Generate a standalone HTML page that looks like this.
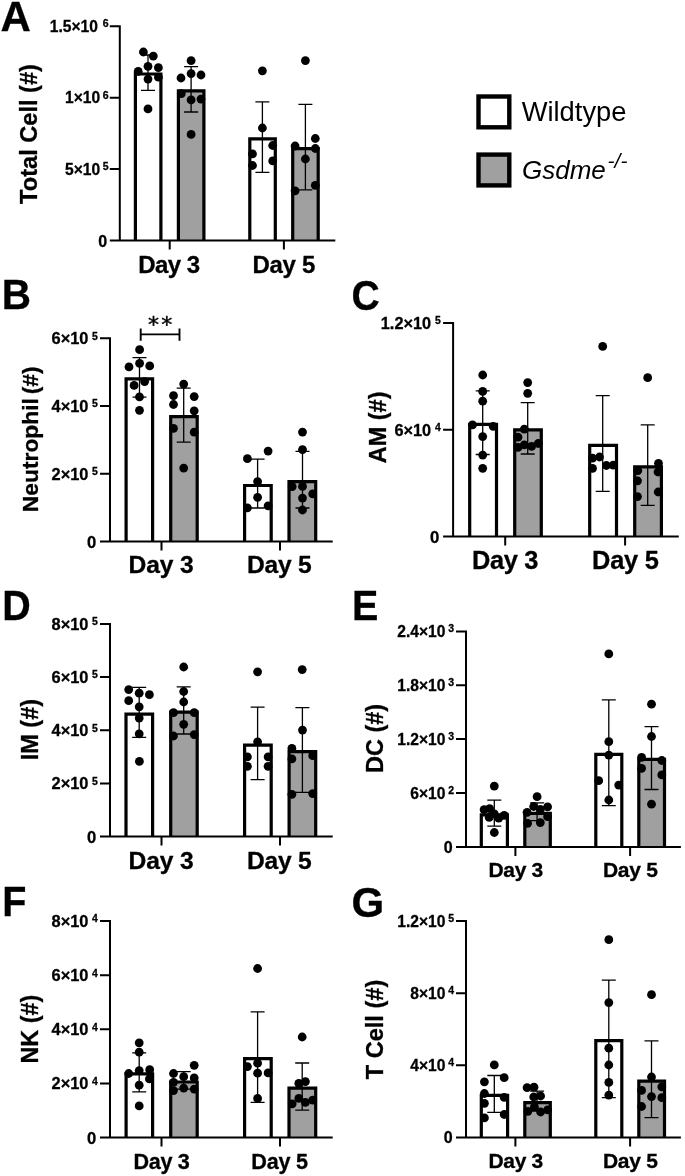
<!DOCTYPE html>
<html lang="en"><head><meta charset="utf-8"><title>Figure</title>
<style>html,body{margin:0;padding:0;background:#fff}svg{display:block}text{font-family:'Liberation Sans', Arial, Helvetica, sans-serif;fill:#000}text[font-weight=bold]{stroke:#000;stroke-width:.3px}</style>
</head><body>
<svg width="685" height="1176" viewBox="0 0 685 1176">
<rect width="685" height="1176" fill="#fff"/>
<g id="panel-A">
<text x="0.6" y="31.2" font-size="42" font-weight="bold">A</text>
<path d="M135.4 240.5V74H160.9V240.5" fill="#fff" stroke="#000" stroke-width="3.2"/>
<path d="M178.4 240.5V90.9H203.9V240.5" fill="#a0a0a0" stroke="#000" stroke-width="3.2"/>
<path d="M249.8 240.5V138.8H275.3V240.5" fill="#fff" stroke="#000" stroke-width="3.2"/>
<path d="M292.7 240.5V148.6H318.2V240.5" fill="#a0a0a0" stroke="#000" stroke-width="3.2"/>
<path d="M148 55V90.4M141 55h14M141 90.4h14" stroke="#000" stroke-width="1.3" fill="none"/>
<path d="M191.1 66.6V112M184.1 66.6h14M184.1 112h14" stroke="#000" stroke-width="1.3" fill="none"/>
<path d="M262.4 101.9V172.3M255.4 101.9h14M255.4 172.3h14" stroke="#000" stroke-width="1.3" fill="none"/>
<path d="M305.4 104.3V189.8M298.4 104.3h14M298.4 189.8h14" stroke="#000" stroke-width="1.3" fill="none"/>
<circle cx="143.4" cy="52" r="4.4"/>
<circle cx="153.3" cy="56.1" r="4.4"/>
<circle cx="148" cy="66.3" r="4.4"/>
<circle cx="158.4" cy="67.7" r="4.4"/>
<circle cx="138.2" cy="71.4" r="4.4"/>
<circle cx="148" cy="79.1" r="4.4"/>
<circle cx="158.4" cy="77.2" r="4.4"/>
<circle cx="148" cy="108.9" r="4.4"/>
<circle cx="191.1" cy="60.7" r="4.4"/>
<circle cx="191.1" cy="73.6" r="4.4"/>
<circle cx="181" cy="78" r="4.4"/>
<circle cx="201" cy="75" r="4.4"/>
<circle cx="181.3" cy="93.7" r="4.4"/>
<circle cx="191.1" cy="99.9" r="4.4"/>
<circle cx="201" cy="99.1" r="4.4"/>
<circle cx="191.1" cy="134.4" r="4.4"/>
<circle cx="262.4" cy="70.8" r="4.4"/>
<circle cx="262.4" cy="128" r="4.4"/>
<circle cx="272.7" cy="145.5" r="4.4"/>
<circle cx="252.5" cy="153.9" r="4.4"/>
<circle cx="272.7" cy="160.9" r="4.4"/>
<circle cx="252.5" cy="165.5" r="4.4"/>
<circle cx="305.4" cy="60.6" r="4.4"/>
<circle cx="315.3" cy="138.5" r="4.4"/>
<circle cx="295.1" cy="146" r="4.4"/>
<circle cx="315.3" cy="148.5" r="4.4"/>
<circle cx="305.4" cy="159" r="4.4"/>
<circle cx="315.3" cy="185.3" r="4.4"/>
<circle cx="295.1" cy="190.8" r="4.4"/>
<path d="M119.8 25.3V241.5M109.8 240.5H335.3M109.8 26.3H119.8M109.8 97.7H119.8M109.8 169.1H119.8M169.7 240.5v9M283.9 240.5v9" stroke="#000" stroke-width="2" fill="none"/>
<text x="108.6" y="27.1" font-size="10.5" font-weight="bold" text-anchor="end">6</text>
<text x="97.9" y="31.8" font-size="16" font-weight="bold" text-anchor="end" textLength="48.14" lengthAdjust="spacingAndGlyphs">1.5×10</text>
<text x="108.6" y="98.5" font-size="10.5" font-weight="bold" text-anchor="end">6</text>
<text x="100.2" y="103.2" font-size="16" font-weight="bold" text-anchor="end" textLength="35.13" lengthAdjust="spacingAndGlyphs">1×10</text>
<text x="108.6" y="169.9" font-size="10.5" font-weight="bold" text-anchor="end">5</text>
<text x="100.2" y="174.6" font-size="16" font-weight="bold" text-anchor="end" textLength="35.13" lengthAdjust="spacingAndGlyphs">5×10</text>
<text x="107.2" y="246.5" font-size="16" font-weight="bold" text-anchor="end">0</text>
<text x="36.7" y="134" font-size="23.6" font-weight="bold" text-anchor="middle" transform="rotate(-90 36.7 134)">Total Cell (#)</text>
<text x="138.15" y="273.4" font-size="24" font-weight="bold" textLength="62.03" lengthAdjust="spacing">Day 3</text>
<text x="252.45" y="273.4" font-size="24" font-weight="bold" textLength="62.83" lengthAdjust="spacing">Day 5</text>
</g>
<g id="panel-B">
<text x="1.8" y="309.4" font-size="42" font-weight="bold" textLength="29.26" lengthAdjust="spacingAndGlyphs">B</text>
<path d="M126.1 541.6V378.9H152.6V541.6" fill="#fff" stroke="#000" stroke-width="3.2"/>
<path d="M170.7 541.6V416.7H197.2V541.6" fill="#a0a0a0" stroke="#000" stroke-width="3.2"/>
<path d="M244.6 541.6V485.5H271.2V541.6" fill="#fff" stroke="#000" stroke-width="3.2"/>
<path d="M289 541.6V481.6H315.7V541.6" fill="#a0a0a0" stroke="#000" stroke-width="3.2"/>
<path d="M139.5 357.7V397.2M132.5 357.7h14M132.5 397.2h14" stroke="#000" stroke-width="1.3" fill="none"/>
<path d="M183.7 388.1V442.2M176.7 388.1h14M176.7 442.2h14" stroke="#000" stroke-width="1.3" fill="none"/>
<path d="M257.6 459.1V508M250.6 459.1h14M250.6 508h14" stroke="#000" stroke-width="1.3" fill="none"/>
<path d="M302.5 451.4V508M295.5 451.4h14M295.5 508h14" stroke="#000" stroke-width="1.3" fill="none"/>
<circle cx="139.6" cy="349.7" r="4.4"/>
<circle cx="129" cy="366.9" r="4.4"/>
<circle cx="139.6" cy="363.3" r="4.4"/>
<circle cx="149.7" cy="365.9" r="4.4"/>
<circle cx="134.1" cy="385.4" r="4.4"/>
<circle cx="144.6" cy="381.6" r="4.4"/>
<circle cx="139.5" cy="396.9" r="4.4"/>
<circle cx="139.5" cy="410.3" r="4.4"/>
<circle cx="183.7" cy="384.1" r="4.4"/>
<circle cx="173.5" cy="395.7" r="4.4"/>
<circle cx="194.2" cy="396.6" r="4.4"/>
<circle cx="173.5" cy="404.5" r="4.4"/>
<circle cx="194.2" cy="410.8" r="4.4"/>
<circle cx="173.5" cy="428.3" r="4.4"/>
<circle cx="194.2" cy="432.2" r="4.4"/>
<circle cx="183.7" cy="468.1" r="4.4"/>
<circle cx="247.4" cy="458.7" r="4.4"/>
<circle cx="268.1" cy="451.1" r="4.4"/>
<circle cx="257.6" cy="481.6" r="4.4"/>
<circle cx="257.6" cy="497.3" r="4.4"/>
<circle cx="247.4" cy="507.8" r="4.4"/>
<circle cx="268.1" cy="505.9" r="4.4"/>
<circle cx="302.5" cy="432.1" r="4.4"/>
<circle cx="302.5" cy="449.6" r="4.4"/>
<circle cx="292.2" cy="486.6" r="4.4"/>
<circle cx="302.5" cy="486.4" r="4.4"/>
<circle cx="312.7" cy="493.9" r="4.4"/>
<circle cx="302.5" cy="498.1" r="4.4"/>
<circle cx="302.5" cy="510" r="4.4"/>
<path d="M110 337.2V542.6M100 541.6H332.7M100 338.2H110M100 406H110M100 473.8H110M161.5 541.6v9M280 541.6v9" stroke="#000" stroke-width="2" fill="none"/>
<text x="97.7" y="339.5" font-size="10.4" font-weight="bold" text-anchor="end">5</text>
<text x="88.5" y="344" font-size="16.6" font-weight="bold" text-anchor="end" textLength="36.93" lengthAdjust="spacingAndGlyphs">6×10</text>
<text x="97.7" y="407.3" font-size="10.4" font-weight="bold" text-anchor="end">5</text>
<text x="88.5" y="411.8" font-size="16.6" font-weight="bold" text-anchor="end" textLength="36.93" lengthAdjust="spacingAndGlyphs">4×10</text>
<text x="97.7" y="475.1" font-size="10.4" font-weight="bold" text-anchor="end">5</text>
<text x="88.5" y="479.6" font-size="16.6" font-weight="bold" text-anchor="end" textLength="36.93" lengthAdjust="spacingAndGlyphs">2×10</text>
<text x="96.3" y="547.9" font-size="16.6" font-weight="bold" text-anchor="end">0</text>
<text x="38" y="439.3" font-size="22.8" font-weight="bold" text-anchor="middle" transform="rotate(-90 38 439.3)">Neutrophil<tspan dx="-2.5"> </tspan>(#)</text>
<text x="128.6" y="573.1" font-size="24.6" font-weight="bold" textLength="65.1" lengthAdjust="spacing">Day 3</text>
<text x="247" y="573.1" font-size="24.6" font-weight="bold" textLength="64.8" lengthAdjust="spacing">Day 5</text>
<path d="M140.7 334.4H179.5M140.7 328.5V340.7M179.5 328.5V340.7" stroke="#000" stroke-width="1.9" fill="none"/>
<text x="148" y="331.9" font-size="22" letter-spacing="2.3" stroke="#000" stroke-width="0.45" style="font-family:'DejaVu Sans',sans-serif">**</text>
</g>
<g id="panel-C">
<text x="351.6" y="309.5" font-size="43" font-weight="bold" textLength="28.25" lengthAdjust="spacingAndGlyphs">C</text>
<path d="M469.7 536.5V424.4H496.5V536.5" fill="#fff" stroke="#000" stroke-width="3.2"/>
<path d="M514.7 536.5V429.9H541.3V536.5" fill="#a0a0a0" stroke="#000" stroke-width="3.2"/>
<path d="M589.7 536.5V445.3H616.5V536.5" fill="#fff" stroke="#000" stroke-width="3.2"/>
<path d="M634.7 536.5V466.8H661.4V536.5" fill="#a0a0a0" stroke="#000" stroke-width="3.2"/>
<path d="M482.7 390.9V454.5M475.7 390.9h14M475.7 454.5h14" stroke="#000" stroke-width="1.3" fill="none"/>
<path d="M527.7 402.6V454M520.7 402.6h14M520.7 454h14" stroke="#000" stroke-width="1.3" fill="none"/>
<path d="M602.7 395.7V491.4M595.7 395.7h14M595.7 491.4h14" stroke="#000" stroke-width="1.3" fill="none"/>
<path d="M647.7 424.9V505.4M640.7 424.9h14M640.7 505.4h14" stroke="#000" stroke-width="1.3" fill="none"/>
<circle cx="482.7" cy="375" r="4.4"/>
<circle cx="482.7" cy="391.4" r="4.4"/>
<circle cx="482.7" cy="401.2" r="4.4"/>
<circle cx="472.5" cy="424.9" r="4.4"/>
<circle cx="493.2" cy="426.4" r="4.4"/>
<circle cx="482.7" cy="436.6" r="4.4"/>
<circle cx="482.7" cy="455.1" r="4.4"/>
<circle cx="482.7" cy="468.3" r="4.4"/>
<circle cx="527.7" cy="382.6" r="4.4"/>
<circle cx="527.7" cy="393.3" r="4.4"/>
<circle cx="524.3" cy="429.2" r="4.4"/>
<circle cx="518" cy="437.2" r="4.4"/>
<circle cx="518" cy="447.4" r="4.4"/>
<circle cx="524.3" cy="444.9" r="4.4"/>
<circle cx="531.6" cy="446.4" r="4.4"/>
<circle cx="538.2" cy="443.5" r="4.4"/>
<circle cx="602.7" cy="346.4" r="4.4"/>
<circle cx="592.5" cy="458.2" r="4.4"/>
<circle cx="599.5" cy="457" r="4.4"/>
<circle cx="592.5" cy="468.4" r="4.4"/>
<circle cx="606.4" cy="465.5" r="4.4"/>
<circle cx="613.2" cy="465.2" r="4.4"/>
<circle cx="647.7" cy="377.7" r="4.4"/>
<circle cx="658.5" cy="463.3" r="4.4"/>
<circle cx="637.8" cy="470.6" r="4.4"/>
<circle cx="658" cy="472" r="4.4"/>
<circle cx="637.5" cy="480.8" r="4.4"/>
<circle cx="658.2" cy="492" r="4.4"/>
<circle cx="637.5" cy="496.6" r="4.4"/>
<path d="M453.1 321.9V537.5M443.1 536.5H678.8M443.1 322.9H453.1M443.1 429.7H453.1M505.2 536.5v9M625.1 536.5v9" stroke="#000" stroke-width="2" fill="none"/>
<text x="440.7" y="324.3" font-size="10.4" font-weight="bold" text-anchor="end">5</text>
<text x="431.1" y="328.8" font-size="16.8" font-weight="bold" text-anchor="end" textLength="50.3" lengthAdjust="spacingAndGlyphs">1.2×10</text>
<text x="440.7" y="431.1" font-size="10.4" font-weight="bold" text-anchor="end">4</text>
<text x="431.1" y="435.6" font-size="16.8" font-weight="bold" text-anchor="end" textLength="36.71" lengthAdjust="spacingAndGlyphs">6×10</text>
<text x="439.3" y="542.9" font-size="16.8" font-weight="bold" text-anchor="end">0</text>
<text x="385.6" y="427.4" font-size="23.5" font-weight="bold" text-anchor="middle" transform="rotate(-90 385.6 427.4)">AM (#)</text>
<text x="472.05" y="569.4" font-size="25.4" font-weight="bold" textLength="66.4" lengthAdjust="spacing">Day 3</text>
<text x="592.05" y="569.4" font-size="25.4" font-weight="bold" textLength="66.8" lengthAdjust="spacing">Day 5</text>
</g>
<g id="panel-D">
<text x="2.3" y="620" font-size="42" font-weight="bold" textLength="28.5" lengthAdjust="spacingAndGlyphs">D</text>
<path d="M126 836.5V714.1H152.6V836.5" fill="#fff" stroke="#000" stroke-width="3.2"/>
<path d="M170.7 836.5V712.1H197.2V836.5" fill="#a0a0a0" stroke="#000" stroke-width="3.2"/>
<path d="M244.6 836.5V745.1H271.2V836.5" fill="#fff" stroke="#000" stroke-width="3.2"/>
<path d="M289.1 836.5V751.6H315.7V836.5" fill="#a0a0a0" stroke="#000" stroke-width="3.2"/>
<path d="M139.2 687.4V737.3M132.2 687.4h14M132.2 737.3h14" stroke="#000" stroke-width="1.3" fill="none"/>
<path d="M183.7 686.8V734M176.7 686.8h14M176.7 734h14" stroke="#000" stroke-width="1.3" fill="none"/>
<path d="M257.6 707.1V779.7M250.6 707.1h14M250.6 779.7h14" stroke="#000" stroke-width="1.3" fill="none"/>
<path d="M302.4 707.6V792.4M295.4 707.6h14M295.4 792.4h14" stroke="#000" stroke-width="1.3" fill="none"/>
<circle cx="128.7" cy="689.6" r="4.4"/>
<circle cx="139.2" cy="693.2" r="4.4"/>
<circle cx="149.4" cy="694.7" r="4.4"/>
<circle cx="128.7" cy="700.7" r="4.4"/>
<circle cx="139.2" cy="706.8" r="4.4"/>
<circle cx="139.2" cy="718.1" r="4.4"/>
<circle cx="139.2" cy="733.8" r="4.4"/>
<circle cx="139.4" cy="761.4" r="4.4"/>
<circle cx="183.7" cy="667" r="4.4"/>
<circle cx="183.7" cy="691.5" r="4.4"/>
<circle cx="183.7" cy="702" r="4.4"/>
<circle cx="173.5" cy="712.7" r="4.4"/>
<circle cx="194.2" cy="712.7" r="4.4"/>
<circle cx="183.7" cy="724.3" r="4.4"/>
<circle cx="173.5" cy="736" r="4.4"/>
<circle cx="194.2" cy="734.6" r="4.4"/>
<circle cx="257.6" cy="671.8" r="4.4"/>
<circle cx="257.6" cy="741.8" r="4.4"/>
<circle cx="247.4" cy="756.8" r="4.4"/>
<circle cx="268.1" cy="756.8" r="4.4"/>
<circle cx="247.4" cy="766.3" r="4.4"/>
<circle cx="268.1" cy="766.3" r="4.4"/>
<circle cx="302.2" cy="669.6" r="4.4"/>
<circle cx="302.5" cy="730.1" r="4.4"/>
<circle cx="291.9" cy="748.4" r="4.4"/>
<circle cx="291.9" cy="758.9" r="4.4"/>
<circle cx="312.7" cy="755.7" r="4.4"/>
<circle cx="291.9" cy="794.3" r="4.4"/>
<circle cx="312.7" cy="793.6" r="4.4"/>
<path d="M110 623V837.5M100 836.5H332.7M100 624H110M100 677.1H110M100 730.3H110M100 783.4H110M161.5 836.5v9M280 836.5v9" stroke="#000" stroke-width="2" fill="none"/>
<text x="97.7" y="625.3" font-size="10.4" font-weight="bold" text-anchor="end">5</text>
<text x="88.5" y="629.8" font-size="16.6" font-weight="bold" text-anchor="end" textLength="36.93" lengthAdjust="spacingAndGlyphs">8×10</text>
<text x="97.7" y="678.4" font-size="10.4" font-weight="bold" text-anchor="end">5</text>
<text x="88.5" y="682.9" font-size="16.6" font-weight="bold" text-anchor="end" textLength="36.93" lengthAdjust="spacingAndGlyphs">6×10</text>
<text x="97.7" y="731.6" font-size="10.4" font-weight="bold" text-anchor="end">5</text>
<text x="88.5" y="736.1" font-size="16.6" font-weight="bold" text-anchor="end" textLength="36.93" lengthAdjust="spacingAndGlyphs">4×10</text>
<text x="97.7" y="784.7" font-size="10.4" font-weight="bold" text-anchor="end">5</text>
<text x="88.5" y="789.2" font-size="16.6" font-weight="bold" text-anchor="end" textLength="36.93" lengthAdjust="spacingAndGlyphs">2×10</text>
<text x="96.3" y="842.8" font-size="16.6" font-weight="bold" text-anchor="end">0</text>
<text x="38" y="729.6" font-size="23.5" font-weight="bold" text-anchor="middle" transform="rotate(-90 38 729.6)">IM (#)</text>
<text x="128.6" y="868.6" font-size="24.6" font-weight="bold" textLength="65.1" lengthAdjust="spacing">Day 3</text>
<text x="247" y="868.6" font-size="24.6" font-weight="bold" textLength="64.8" lengthAdjust="spacing">Day 5</text>
</g>
<g id="panel-E">
<text x="351.9" y="620" font-size="42" font-weight="bold" textLength="26.33" lengthAdjust="spacingAndGlyphs">E</text>
<path d="M481.3 847V814.8H507.4V847" fill="#fff" stroke="#000" stroke-width="3.2"/>
<path d="M524.8 847V813.4H550.3V847" fill="#a0a0a0" stroke="#000" stroke-width="3.2"/>
<path d="M595.8 847V754.3H621.8V847" fill="#fff" stroke="#000" stroke-width="3.2"/>
<path d="M638.8 847V759.4H664.5V847" fill="#a0a0a0" stroke="#000" stroke-width="3.2"/>
<path d="M494.3 800.2V826.2M487.3 800.2h14M487.3 826.2h14" stroke="#000" stroke-width="1.3" fill="none"/>
<path d="M537.1 802.8V820.6M530.1 802.8h14M530.1 820.6h14" stroke="#000" stroke-width="1.3" fill="none"/>
<path d="M608.8 699.9V805.6M601.8 699.9h14M601.8 805.6h14" stroke="#000" stroke-width="1.3" fill="none"/>
<path d="M651.5 726.7V789.5M644.5 726.7h14M644.5 789.5h14" stroke="#000" stroke-width="1.3" fill="none"/>
<circle cx="494.3" cy="786.1" r="4.4"/>
<circle cx="484.1" cy="809.7" r="4.4"/>
<circle cx="489.6" cy="808.7" r="4.4"/>
<circle cx="489.2" cy="817.4" r="4.4"/>
<circle cx="494.3" cy="813.8" r="4.4"/>
<circle cx="498.7" cy="818.2" r="4.4"/>
<circle cx="504.2" cy="815.3" r="4.4"/>
<circle cx="494.3" cy="832.5" r="4.4"/>
<circle cx="537.1" cy="796.7" r="4.4"/>
<circle cx="533.7" cy="806.5" r="4.4"/>
<circle cx="547.6" cy="806.8" r="4.4"/>
<circle cx="540.3" cy="809.4" r="4.4"/>
<circle cx="527.1" cy="812.3" r="4.4"/>
<circle cx="547.6" cy="816.7" r="4.4"/>
<circle cx="527.6" cy="823.3" r="4.4"/>
<circle cx="540.3" cy="822.6" r="4.4"/>
<circle cx="608.8" cy="653.9" r="4.4"/>
<circle cx="608.8" cy="741.7" r="4.4"/>
<circle cx="608.8" cy="755.1" r="4.4"/>
<circle cx="598.7" cy="780.7" r="4.4"/>
<circle cx="618.7" cy="785.1" r="4.4"/>
<circle cx="608.8" cy="800" r="4.4"/>
<circle cx="651.5" cy="704.2" r="4.4"/>
<circle cx="651.5" cy="736.5" r="4.4"/>
<circle cx="641.6" cy="757.3" r="4.4"/>
<circle cx="661.8" cy="760.5" r="4.4"/>
<circle cx="641.6" cy="768.3" r="4.4"/>
<circle cx="661.8" cy="774.9" r="4.4"/>
<circle cx="651.5" cy="804.2" r="4.4"/>
<path d="M466 630.4V848M456 847H680.9M456 631.4H466M456 685.3H466M456 739.1H466M456 793.1H466M515.4 847v9M630.1 847v9" stroke="#000" stroke-width="2" fill="none"/>
<text x="454.1" y="632.2" font-size="10.5" font-weight="bold" text-anchor="end">3</text>
<text x="445.4" y="636.9" font-size="16" font-weight="bold" text-anchor="end" textLength="48.14" lengthAdjust="spacingAndGlyphs">2.4×10</text>
<text x="454.1" y="686.1" font-size="10.5" font-weight="bold" text-anchor="end">3</text>
<text x="445.4" y="690.8" font-size="16" font-weight="bold" text-anchor="end" textLength="48.14" lengthAdjust="spacingAndGlyphs">1.8×10</text>
<text x="454.1" y="739.9" font-size="10.5" font-weight="bold" text-anchor="end">3</text>
<text x="445.4" y="744.6" font-size="16" font-weight="bold" text-anchor="end" textLength="48.14" lengthAdjust="spacingAndGlyphs">1.2×10</text>
<text x="454.1" y="793.9" font-size="10.5" font-weight="bold" text-anchor="end">2</text>
<text x="445.4" y="798.6" font-size="16" font-weight="bold" text-anchor="end" textLength="35.13" lengthAdjust="spacingAndGlyphs">6×10</text>
<text x="452.7" y="853" font-size="16" font-weight="bold" text-anchor="end">0</text>
<text x="383.1" y="738.4" font-size="23.5" font-weight="bold" text-anchor="middle" transform="rotate(-90 383.1 738.4)">DC (#)</text>
<text x="488.47" y="877.1" font-size="21" font-weight="bold" textLength="54.78" lengthAdjust="spacing">Day 3</text>
<text x="602.97" y="877.1" font-size="21" font-weight="bold" textLength="54.88" lengthAdjust="spacing">Day 5</text>
</g>
<g id="panel-F">
<text x="2.2" y="916.2" font-size="42" font-weight="bold" textLength="24.12" lengthAdjust="spacingAndGlyphs">F</text>
<path d="M126.1 1137.6V1073.9H152.6V1137.6" fill="#fff" stroke="#000" stroke-width="3.2"/>
<path d="M170.7 1137.6V1082H197.2V1137.6" fill="#a0a0a0" stroke="#000" stroke-width="3.2"/>
<path d="M244.6 1137.6V1058.7H271.2V1137.6" fill="#fff" stroke="#000" stroke-width="3.2"/>
<path d="M289 1137.6V1088.2H315.7V1137.6" fill="#a0a0a0" stroke="#000" stroke-width="3.2"/>
<path d="M139.2 1052.9V1091.8M132.2 1052.9h14M132.2 1091.8h14" stroke="#000" stroke-width="1.3" fill="none"/>
<path d="M183.7 1071.6V1089.2M176.7 1071.6h14M176.7 1089.2h14" stroke="#000" stroke-width="1.3" fill="none"/>
<path d="M257.6 1011.8V1102.4M250.6 1011.8h14M250.6 1102.4h14" stroke="#000" stroke-width="1.3" fill="none"/>
<path d="M302.2 1063V1110.2M295.2 1063h14M295.2 1110.2h14" stroke="#000" stroke-width="1.3" fill="none"/>
<circle cx="139.2" cy="1042.8" r="4.4"/>
<circle cx="139.2" cy="1052.2" r="4.4"/>
<circle cx="128.7" cy="1073.5" r="4.4"/>
<circle cx="139.2" cy="1070.6" r="4.4"/>
<circle cx="149.7" cy="1069.7" r="4.4"/>
<circle cx="149.4" cy="1078.9" r="4.4"/>
<circle cx="139.2" cy="1085.2" r="4.4"/>
<circle cx="139.2" cy="1105.9" r="4.4"/>
<circle cx="194.2" cy="1065.3" r="4.4"/>
<circle cx="173.5" cy="1073.5" r="4.4"/>
<circle cx="183.7" cy="1076.7" r="4.4"/>
<circle cx="194.2" cy="1077.9" r="4.4"/>
<circle cx="173.5" cy="1082.3" r="4.4"/>
<circle cx="183.7" cy="1088.1" r="4.4"/>
<circle cx="173.5" cy="1090.6" r="4.4"/>
<circle cx="194.2" cy="1089.1" r="4.4"/>
<circle cx="257.6" cy="968.5" r="4.4"/>
<circle cx="257.6" cy="1063.2" r="4.4"/>
<circle cx="247.4" cy="1066.6" r="4.4"/>
<circle cx="257.6" cy="1073.2" r="4.4"/>
<circle cx="268.1" cy="1072.9" r="4.4"/>
<circle cx="257.6" cy="1098.4" r="4.4"/>
<circle cx="302.2" cy="1037" r="4.4"/>
<circle cx="298.8" cy="1083.4" r="4.4"/>
<circle cx="305.4" cy="1081.6" r="4.4"/>
<circle cx="298.8" cy="1098.4" r="4.4"/>
<circle cx="292.2" cy="1103.8" r="4.4"/>
<circle cx="305.4" cy="1102.4" r="4.4"/>
<circle cx="312.7" cy="1100.2" r="4.4"/>
<path d="M110 920.1V1138.6M100 1137.6H332.7M100 921.1H110M100 975.2H110M100 1029.3H110M100 1083.5H110M161.5 1137.6v9M280 1137.6v9" stroke="#000" stroke-width="2" fill="none"/>
<text x="97.7" y="922.4" font-size="10.4" font-weight="bold" text-anchor="end">4</text>
<text x="88.5" y="926.9" font-size="16.6" font-weight="bold" text-anchor="end" textLength="36.93" lengthAdjust="spacingAndGlyphs">8×10</text>
<text x="97.7" y="976.5" font-size="10.4" font-weight="bold" text-anchor="end">4</text>
<text x="88.5" y="981" font-size="16.6" font-weight="bold" text-anchor="end" textLength="36.93" lengthAdjust="spacingAndGlyphs">6×10</text>
<text x="97.7" y="1030.6" font-size="10.4" font-weight="bold" text-anchor="end">4</text>
<text x="88.5" y="1035.1" font-size="16.6" font-weight="bold" text-anchor="end" textLength="36.93" lengthAdjust="spacingAndGlyphs">4×10</text>
<text x="97.7" y="1084.8" font-size="10.4" font-weight="bold" text-anchor="end">4</text>
<text x="88.5" y="1089.3" font-size="16.6" font-weight="bold" text-anchor="end" textLength="36.93" lengthAdjust="spacingAndGlyphs">2×10</text>
<text x="96.3" y="1143.9" font-size="16.6" font-weight="bold" text-anchor="end">0</text>
<text x="37.8" y="1029.1" font-size="23.4" font-weight="bold" text-anchor="middle" transform="rotate(-90 37.8 1029.1)">NK (#)</text>
<text x="133.62" y="1169.4" font-size="21.6" font-weight="bold" textLength="56.15" lengthAdjust="spacing">Day 3</text>
<text x="251.32" y="1169.4" font-size="21.6" font-weight="bold" textLength="56.75" lengthAdjust="spacing">Day 5</text>
</g>
<g id="panel-G">
<text x="351.4" y="916.8" font-size="42" font-weight="bold">G</text>
<path d="M481.3 1137.4V1095.4H507.6V1137.4" fill="#fff" stroke="#000" stroke-width="3.2"/>
<path d="M524.8 1137.4V1102.7H550.3V1137.4" fill="#a0a0a0" stroke="#000" stroke-width="3.2"/>
<path d="M595.8 1137.4V1040.7H621.8V1137.4" fill="#fff" stroke="#000" stroke-width="3.2"/>
<path d="M638.8 1137.4V1081.1H664.5V1137.4" fill="#a0a0a0" stroke="#000" stroke-width="3.2"/>
<path d="M494.3 1075.5V1112.3M487.3 1075.5h14M487.3 1112.3h14" stroke="#000" stroke-width="1.3" fill="none"/>
<path d="M537.1 1091.2V1111M530.1 1091.2h14M530.1 1111h14" stroke="#000" stroke-width="1.3" fill="none"/>
<path d="M608.8 980.1V1097.7M601.8 980.1h14M601.8 1097.7h14" stroke="#000" stroke-width="1.3" fill="none"/>
<path d="M651.5 1040.9V1117.6M644.5 1040.9h14M644.5 1117.6h14" stroke="#000" stroke-width="1.3" fill="none"/>
<circle cx="494.3" cy="1064.9" r="4.4"/>
<circle cx="504.2" cy="1077.7" r="4.4"/>
<circle cx="484.4" cy="1081.8" r="4.4"/>
<circle cx="484.4" cy="1093.5" r="4.4"/>
<circle cx="504.2" cy="1097.4" r="4.4"/>
<circle cx="484.4" cy="1103.3" r="4.4"/>
<circle cx="504.2" cy="1114.5" r="4.4"/>
<circle cx="484.4" cy="1117.9" r="4.4"/>
<circle cx="527.1" cy="1087.7" r="4.4"/>
<circle cx="534" cy="1087.2" r="4.4"/>
<circle cx="533.7" cy="1097" r="4.4"/>
<circle cx="540.6" cy="1096" r="4.4"/>
<circle cx="527.9" cy="1111.3" r="4.4"/>
<circle cx="534.4" cy="1106.9" r="4.4"/>
<circle cx="540.6" cy="1112" r="4.4"/>
<circle cx="547.6" cy="1109.9" r="4.4"/>
<circle cx="608.8" cy="939.7" r="4.4"/>
<circle cx="608.8" cy="1002.6" r="4.4"/>
<circle cx="608.8" cy="1048.2" r="4.4"/>
<circle cx="608.8" cy="1065" r="4.4"/>
<circle cx="608.8" cy="1082.4" r="4.4"/>
<circle cx="608.8" cy="1095.1" r="4.4"/>
<circle cx="651.5" cy="994.7" r="4.4"/>
<circle cx="651.5" cy="1077" r="4.4"/>
<circle cx="661.8" cy="1086.8" r="4.4"/>
<circle cx="641.6" cy="1090.4" r="4.4"/>
<circle cx="651.5" cy="1096.6" r="4.4"/>
<circle cx="661.8" cy="1097.7" r="4.4"/>
<circle cx="641.6" cy="1106.5" r="4.4"/>
<path d="M466 920.1V1138.4M456 1137.4H680.9M456 921.1H466M456 993.2H466M456 1065.3H466M515.4 1137.4v9M630.1 1137.4v9" stroke="#000" stroke-width="2" fill="none"/>
<text x="454.1" y="921.9" font-size="10.5" font-weight="bold" text-anchor="end">5</text>
<text x="445.4" y="926.6" font-size="16" font-weight="bold" text-anchor="end" textLength="48.14" lengthAdjust="spacingAndGlyphs">1.2×10</text>
<text x="454.1" y="994" font-size="10.5" font-weight="bold" text-anchor="end">4</text>
<text x="445.4" y="998.7" font-size="16" font-weight="bold" text-anchor="end" textLength="35.13" lengthAdjust="spacingAndGlyphs">8×10</text>
<text x="454.1" y="1066.1" font-size="10.5" font-weight="bold" text-anchor="end">4</text>
<text x="445.4" y="1070.8" font-size="16" font-weight="bold" text-anchor="end" textLength="35.13" lengthAdjust="spacingAndGlyphs">4×10</text>
<text x="452.7" y="1143.4" font-size="16" font-weight="bold" text-anchor="end">0</text>
<text x="383.1" y="1029.5" font-size="23.6" font-weight="bold" text-anchor="middle" transform="rotate(-90 383.1 1029.5)">T Cell (#)</text>
<text x="488.47" y="1167.7" font-size="21" font-weight="bold" textLength="54.78" lengthAdjust="spacing">Day 3</text>
<text x="602.97" y="1167.7" font-size="21" font-weight="bold" textLength="54.88" lengthAdjust="spacing">Day 5</text>
</g>
<rect x="478.5" y="96.5" width="30.8" height="30.8" fill="#fff" stroke="#000" stroke-width="4.4"/>
<rect x="478.5" y="154.6" width="30.8" height="30.8" fill="#a0a0a0" stroke="#000" stroke-width="4.4"/>
<text x="521.7" y="121.0" font-size="27.3" textLength="104.7" lengthAdjust="spacing">Wildtype</text>
<text x="522.0" y="179.2" font-size="26.0" font-style="italic">Gsdme</text>
<text x="607.6" y="168.4" font-size="21" font-style="italic">-/-</text>
</svg>
</body></html>
